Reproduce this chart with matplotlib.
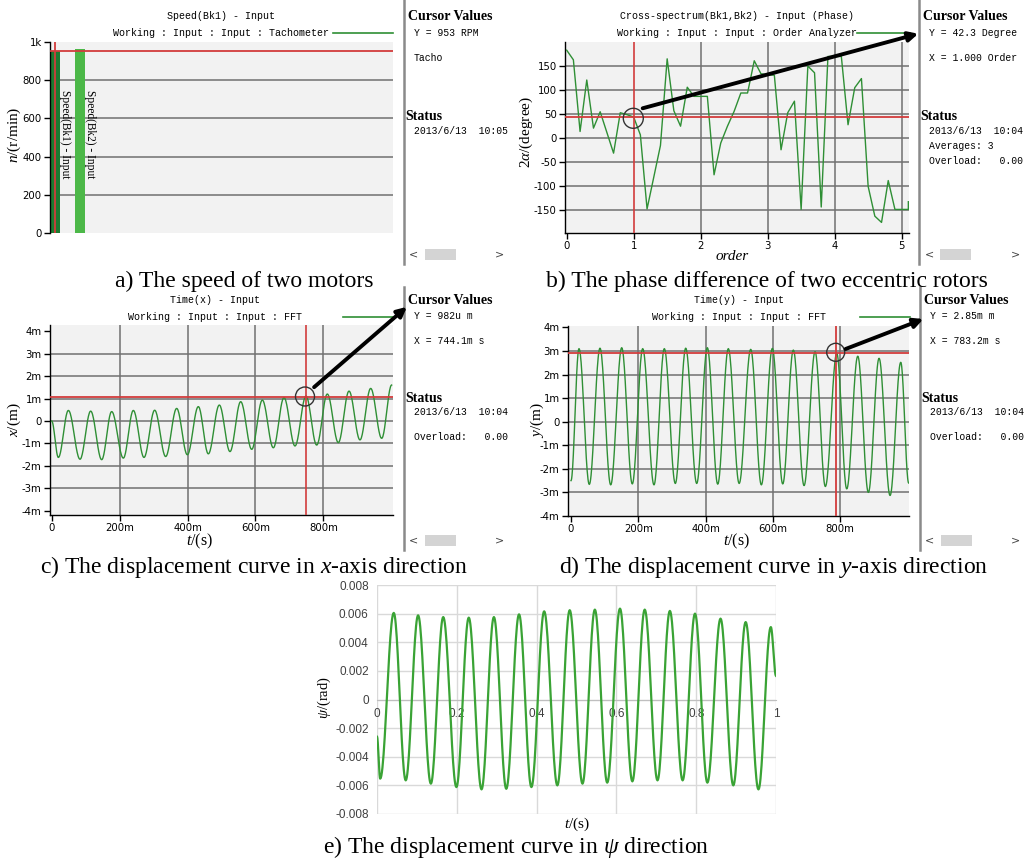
import numpy as np
import matplotlib.pyplot as plt
from matplotlib.patches import Circle, Rectangle

plt.rcParams['mathtext.fontset'] = 'custom'
plt.rcParams['mathtext.rm'] = 'Liberation Serif'
plt.rcParams['mathtext.it'] = 'Liberation Serif:italic'
plt.rcParams['mathtext.bf'] = 'Liberation Serif:bold'
plt.rcParams['axes.unicode_minus'] = False

# ---- data ----
# a) speed of the two motors
speed_names = ['Speed(Bk1) - Input', 'Speed(Bk2) - Input']
speed_rpm = [953, 959]

# b) cross-spectrum phase vs order
phase_order = [0.0, 0.1, 0.2, 0.3, 0.4, 0.5, 0.7, 0.8, 0.9, 1.0,
               1.1, 1.2, 1.4, 1.5, 1.6, 1.7, 1.8, 1.9, 2.0, 2.1,
               2.2, 2.3, 2.4, 2.5, 2.6, 2.7, 2.8, 2.9, 3.0, 3.1,
               3.2, 3.3, 3.4, 3.5, 3.6, 3.7, 3.8, 3.9, 4.0, 4.1,
               4.2, 4.3, 4.4, 4.5, 4.6, 4.7, 4.8, 4.9, 5.0, 5.1, 5.1]
phase_deg = [183, 163, 14, 121, 21, 55, -31, 53, 49, 44,
             7, -147, -15, 165, 57, 25, 106, 87, 87, 87,
             -76, -10, 25, 56, 94, 94, 161, 134, 132, 131,
             -24, 53, 77, -148, 150, 136, -143, 170, 170, 170,
             28, 105, 124, -100, -162, -175, -88, -148, -148, -148, -132]

# c) x displacement, extrema (ms, mm)
x_t = [0, 19.6, 49.1, 83.4, 114.8, 147.2, 176.6, 211.0, 240.4, 271.8,
       303.2, 335.6, 368.0, 399.4, 431.8, 461.2, 493.6, 525.0, 556.5, 589.0,
       620.2, 652.6, 684.0, 716.4, 748.8, 780.3, 811.6, 844.0, 875.5, 907.8,
       939.3, 971.7, 1001]
x_v = [0.0, -1.62, 0.47, -1.70, 0.44, -1.72, 0.42, -1.65, 0.47, -1.62,
       0.48, -1.58, 0.56, -1.50, 0.64, -1.46, 0.71, -1.36, 0.86, -1.26,
       0.93, -1.19, 1.04, -1.11, 1.11, -1.07, 1.20, -0.96, 1.33, -0.84,
       1.45, -0.77, 1.60]

# d) y displacement, extrema (ms, mm)
y_t = [0, 23.8, 54.4, 86.2, 118.1, 150.8, 182.3, 213.2, 246.8, 277.5,
       310.2, 341.1, 373.8, 405.4, 436.3, 467.8, 500.0, 534.4, 566.0, 598.7,
       629.6, 661.1, 693.0, 725.7, 756.3, 790.2, 819.9, 852.7, 884.2, 916.0,
       948.7, 980.5, 1004]
y_v = [-2.5, 3.10, -2.66, 3.12, -2.68, 3.14, -2.64, 3.10, -2.68, 3.10,
       -2.62, 3.12, -2.62, 3.14, -2.65, 3.10, -2.62, 3.07, -2.68, 3.11,
       -2.64, 3.04, -2.71, 2.97, -2.75, 2.90, -2.85, 2.78, -3.00, 2.69,
       -3.13, 2.52, -2.60]

# e) psi displacement, extrema (s, rad)
psi_t = [0, 0.008, 0.042, 0.072, 0.103, 0.135, 0.166, 0.199, 0.230, 0.262,
         0.293, 0.324, 0.356, 0.387, 0.419, 0.452, 0.483, 0.515, 0.546, 0.577,
         0.609, 0.640, 0.671, 0.703, 0.734, 0.766, 0.797, 0.828, 0.861, 0.893,
         0.924, 0.956, 0.987, 1.0]
psi_v = [-0.0026, -0.00553, 0.00605, -0.00565, 0.00588, -0.00588, 0.00576, -0.00612, 0.00572, -0.00628,
         0.00576, -0.00624, 0.00595, -0.00612, 0.00616, -0.006, 0.00624, -0.00588, 0.00628, -0.00581,
         0.00635, -0.00572, 0.00628, -0.00565, 0.00619, -0.00565, 0.006, -0.00581, 0.00565, -0.006,
         0.00541, -0.00628, 0.00506, 0.00165]

GREEN = '#2f8f35'
RED = '#d23c3c'
GRID = '#707070'
BG = '#f2f2f2'
W, H = 1029, 859
CAP = 17

fig = plt.figure(figsize=(W / 100, H / 100), dpi=100)


def box(x0, y0, x1, y1):
  return fig.add_axes([x0 / W, 1 - y1 / H, (x1 - x0) / W, (y1 - y0) / H])


def eased(tx, vy, n=24):
  # draw smooth swings between the read extrema
  xs, ys = [], []
  for i in range(len(tx) - 1):
    s = np.linspace(0, 1, n, endpoint=False)
    w = (1 - np.cos(np.pi * s)) / 2
    xs.append(tx[i] + (tx[i + 1] - tx[i]) * s)
    ys.append(vy[i] + (vy[i + 1] - vy[i]) * w)
  xs.append([tx[-1]])
  ys.append([vy[-1]])
  return np.concatenate(xs), np.concatenate(ys)


def soft_axes(b, xlim, ylim, hgrid, vgrid):
  ax = box(*b)
  ax.set_facecolor(BG)
  ax.set_xlim(xlim)
  ax.set_ylim(ylim)
  for s in ['top', 'right']:
    ax.spines[s].set_visible(False)
  for s in ['left', 'bottom']:
    ax.spines[s].set_color('black')
    ax.spines[s].set_linewidth(1.0)
  ax.tick_params(direction='out', length=4, width=1, labelsize=7.3, pad=2)
  for v in hgrid:
    ax.axhline(v, color=GRID, lw=1.1, zorder=1)
  for v in vgrid:
    ax.axvline(v, color=GRID, lw=1.1, zorder=1)
  return ax


ov = fig.add_axes([0, 0, 1, 1], zorder=10)
ov.set_xlim(0, W)
ov.set_ylim(H, 0)
ov.axis('off')
ov.patch.set_alpha(0)

serif = 'Liberation Serif'
mono = 'Liberation Mono'


def header(cx, y, t1, t2, lx0, lx1):
  ov.text(cx, y, t1, ha='center', va='center', family=mono, fontsize=7.2)
  ov.text(cx, y + 17, t2, ha='center', va='center', family=mono, fontsize=7.2)
  ov.plot([lx0, lx1], [y + 17, y + 17], color=GREEN, lw=1.2)


def sidebar(x, y0, y1, top, cursor_lines, status_y, status_lines):
  ov.plot([x, x], [y0, y1], color='#8a8a8a', lw=1.8)
  ov.text(x + 4, y0 + top, 'Cursor Values', ha='left', va='center',
          family=serif, fontsize=10, fontweight='bold')
  for dy, s in cursor_lines:
    ov.text(x + 10, y0 + dy, s, ha='left', va='center', family=mono, fontsize=7)
  ov.text(x + 1, y0 + status_y, 'Status', ha='left', va='center',
          family=serif, fontsize=10, fontweight='bold')
  for dy, s in status_lines:
    ov.text(x + 10, y0 + dy, s, ha='left', va='center', family=mono, fontsize=7)
  yb = y1 - 10
  ov.text(x + 10, yb, '<', ha='center', va='center', fontsize=8, color='#444')
  ov.add_patch(Rectangle((x + 21, yb - 5), 31, 11, color='#d4d4d4', lw=0))
  ov.text(x + 96, yb, '>', ha='center', va='center', fontsize=8, color='#444')


# ---------------- a) speed ----------------
axa = soft_axes((50, 41.5, 393, 233.3), (0, 34.3), (0, 1000), [200, 400, 600, 800], [])
axa.spines['bottom'].set_visible(False)
axa.set_xticks([])
axa.set_yticks([0, 200, 400, 600, 800, 1000])
axa.set_yticklabels(['0', '200', '400', '600', '800', '1k'])
bar_x = [0.5, 3.0]
axa.bar(bar_x, speed_rpm, width=1.0, color=['#1d7a30', '#4cb848'], zorder=2)
for bx, name in zip(bar_x, speed_names):
  axa.text(bx + 1.0, 745, name, rotation=-90, ha='center', va='top',
           family=serif, fontsize=8.3, zorder=3)
axa.axhline(speed_rpm[0], color=RED, lw=1.3, zorder=4)
axa.axvline(bar_x[0], color=RED, lw=1.3, zorder=4)
header(221, 16, 'Speed(Bk1) - Input', 'Working : Input : Input : Tachometer', 333, 393)
ov.text(14, 135, '$n$/(r/min)', rotation=90, ha='center', va='center',
        family=serif, fontsize=11)
sidebar(404, 0, 264, 17, [(33, 'Y = 953 RPM'), (58, 'Tacho')],
        116, [(131, '2013/6/13  10:05')])
ov.text(244, 281, 'a) The speed of two motors', ha='center', va='center',
        family=serif, fontsize=CAP)

# ---------------- b) phase ----------------
axb = soft_axes((565, 42, 909, 233), (-0.025, 5.11), (-197, 200),
                [-150, -100, -50, 0, 50, 100, 150], [2, 3, 4, 5])
axb.set_xticks([0, 1, 2, 3, 4, 5])
axb.set_yticks([-150, -100, -50, 0, 50, 100, 150])
axb.plot(phase_order, phase_deg, color=GREEN, lw=1.0, zorder=3)
axb.axvline(1.0, color=RED, lw=1.2, zorder=4)
axb.axhline(44, color=RED, lw=1.3, zorder=4)
header(737, 16, 'Cross-spectrum(Bk1,Bk2) - Input (Phase)',
       'Working : Input : Input : Order Analyzer', 857, 910)
ov.text(526, 132, r'2$\alpha$/(degree)', rotation=90, ha='center', va='center',
        family=serif, fontsize=11)
ov.text(732, 256, 'order', ha='center', va='center', family=serif,
        style='italic', fontsize=11)
sidebar(919, 0, 264, 17, [(33, 'Y = 42.3 Degree'), (58, 'X = 1.000 Order')],
        116, [(131, '2013/6/13  10:04'), (146, 'Averages: 3'), (161, 'Overload:   0.00')])
ov.text(767, 281, 'b) The phase difference of two eccentric rotors', ha='center',
        va='center', family=serif, fontsize=CAP)
ov.add_patch(Circle((633.3, 118.3), 10, fill=False, ec='#333', lw=1))
ov.annotate('', xy=(921, 33), xytext=(640, 109),
            arrowprops=dict(arrowstyle='-|>', lw=2.8, color='black', mutation_scale=14))

# ---------------- c) x displacement ----------------
mlabels = ['-4m', '-3m', '-2m', '-1m', '0', '1m', '2m', '3m', '4m']
axc = soft_axes((50, 325, 393, 515), (-5, 1005), (-4.18, 4.27),
                [-3, -2, -1, 0, 1, 2, 3], [200, 400, 600, 800])
axc.set_xticks([0, 200, 400, 600, 800])
axc.set_xticklabels(['0', '200m', '400m', '600m', '800m'])
axc.set_yticks(range(-4, 5))
axc.set_yticklabels(mlabels)
cx, cy = eased(x_t, x_v)
axc.plot(cx, cy, color=GREEN, lw=1.0, zorder=3)
axc.axvline(749, color=RED, lw=1.2, zorder=4)
axc.axhline(1.08, color=RED, lw=1.3, zorder=4)
header(215, 300, 'Time(x) - Input', 'Working : Input : Input : FFT', 343, 393)
ov.text(14, 420, '$x$/(m)', rotation=90, ha='center', va='center',
        family=serif, fontsize=11)
ov.text(200, 541, '$t$/(s)', ha='center', va='center', family=serif, fontsize=11.5)
sidebar(404, 287, 550, 13, [(29, 'Y = 982u m'), (54, 'X = 744.1m s')],
        111, [(125, '2013/6/13  10:04'), (150, 'Overload:   0.00')])
ov.text(254, 567, 'c) The displacement curve in $x$-axis direction', ha='center',
        va='center', family=serif, fontsize=CAP)
ov.add_patch(Circle((305, 396.5), 9.5, fill=False, ec='#333', lw=1))
ov.annotate('', xy=(409, 305), xytext=(312, 389),
            arrowprops=dict(arrowstyle='-|>', lw=2.8, color='black', mutation_scale=14))

# ---------------- d) y displacement ----------------
axd = soft_axes((568, 326, 909, 516), (-8.9, 1005), (-4.0, 4.06),
                [-3, -2, -1, 0, 1, 2, 3], [200, 400, 600, 800])
axd.set_xticks([0, 200, 400, 600, 800])
axd.set_xticklabels(['0', '200m', '400m', '600m', '800m'])
axd.set_yticks(range(-4, 5))
axd.set_yticklabels(mlabels)
dx, dy = eased(y_t, y_v)
axd.plot(dx, dy, color=GREEN, lw=1.0, zorder=3)
axd.axvline(788, color=RED, lw=1.3, zorder=4)
axd.axhline(2.93, color=RED, lw=1.3, zorder=4)
header(739, 300, 'Time(y) - Input', 'Working : Input : Input : FFT', 860, 910)
ov.text(537, 420, '$y$/(m)', rotation=90, ha='center', va='center',
        family=serif, fontsize=11)
ov.text(737, 541, '$t$/(s)', ha='center', va='center', family=serif, fontsize=11.5)
sidebar(920, 287, 550, 13, [(29, 'Y = 2.85m m'), (54, 'X = 783.2m s')],
        111, [(125, '2013/6/13  10:04'), (150, 'Overload:   0.00')])
ov.text(774, 567, 'd) The displacement curve in $y$-axis direction', ha='center',
        va='center', family=serif, fontsize=CAP)
ov.add_patch(Circle((835.7, 352.3), 9, fill=False, ec='#333', lw=1))
ov.annotate('', xy=(926, 318), xytext=(843, 350),
            arrowprops=dict(arrowstyle='-|>', lw=2.8, color='black', mutation_scale=14))

# ---------------- e) psi displacement ----------------
axe = box(377, 585, 776, 814)
axe.set_xlim(0, 1)
axe.set_ylim(-0.008, 0.008)
for s in ['top', 'right', 'left']:
  axe.spines[s].set_visible(False)
axe.spines['bottom'].set_position(('data', 0))
axe.spines['bottom'].set_color('#bfbfbf')
axe.set_xticks([0, 0.2, 0.4, 0.6, 0.8, 1.0])
axe.set_xticklabels(['0', '0.2', '0.4', '0.6', '0.8', '1'])
yt = np.arange(-0.008, 0.0081, 0.002)
axe.set_yticks(yt)
axe.set_yticklabels(['-0.008', '-0.006', '-0.004', '-0.002', '0',
                     '0.002', '0.004', '0.006', '0.008'])
axe.tick_params(length=0, labelsize=8.5, labelcolor='#404040', pad=6)
for lab in axe.get_xticklabels() + axe.get_yticklabels():
  lab.set_family('Liberation Sans')
axe.grid(True, color='#d9d9d9', lw=1)
axe.set_axisbelow(True)
ex, ey = eased(psi_t, psi_v)
axe.plot(ex, ey, color='#3aa335', lw=1.6, zorder=3)
ov.text(324, 698, r'$\psi$/(rad)', rotation=90, ha='center', va='center',
        family=serif, fontsize=10.5)
ov.text(577, 824, '$t$/(s)', ha='center', va='center', family=serif, fontsize=11)
ov.text(516, 847, r'e) The displacement curve in $\psi$ direction', ha='center',
        va='center', family=serif, fontsize=CAP)

fig.savefig('out.png', dpi=100, facecolor='white')
